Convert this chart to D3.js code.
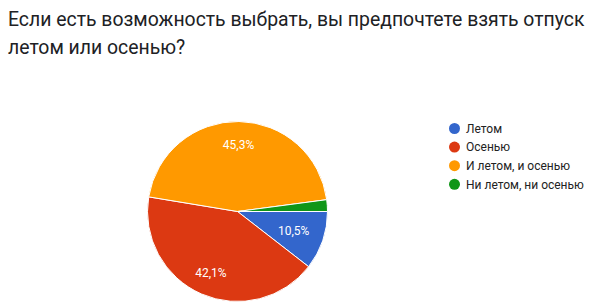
<!DOCTYPE html>
<html><head><meta charset="utf-8">
<script src="https://cdn.jsdelivr.net/npm/d3@7"></script>
<style>body{margin:0;background:#fff;}svg{display:block;}</style>
</head><body>
<svg id="c" width="608" height="305"></svg>
<script>
const titleLines = ["Если есть возможность выбрать, вы предпочтете взять отпуск", "летом или осенью?"];
const categories = ["Летом", "Осенью", "И летом, и осенью", "Ни летом, ни осенью"];
const values = [10.5, 42.1, 45.3, 2.1];
const labels = ["10,5%", "42,1%", "45,3%", ""];
const colors = ["#3366cc", "#dc3912", "#ff9900", "#109618"];

const svg = d3.select("#c");
svg.append("rect").attr("width",608).attr("height",305).attr("fill","#fff");

svg.selectAll("text.title").data(titleLines).join("text")
  .attr("class","title")
  .attr("x",8).attr("y",(d,i)=>26+i*27.5)
  .attr("font-family","Roboto").attr("font-size",19.4).attr("fill","#202124")
  .text(d=>d);

const cx = 237.5, cy = 211.5, r = 90;
const pie = d3.pie().sort(null).value(d=>d)
  .startAngle(Math.PI/2).endAngle(Math.PI/2 + 2*Math.PI);
const arcs = pie(values);
const arc = d3.arc().innerRadius(0).outerRadius(r);
const g = svg.append("g").attr("transform",`translate(${cx},${cy})`);
g.selectAll("path").data(arcs).join("path")
  .attr("d",arc).attr("fill",(d,i)=>colors[i])
  .attr("stroke","#fff").attr("stroke-width",1);

// label radius: larger slices push labels further out (Google Charts style)
const lr = d => r * (d.endAngle - d.startAngle > 1 ? 0.74 : 0.66);
g.selectAll("text").data(arcs).join("text")
  .attr("transform",d=>{
    const a = (d.startAngle + d.endAngle)/2;
    return `translate(${Math.sin(a)*lr(d)},${-Math.cos(a)*lr(d)})`;
  })
  .attr("text-anchor","middle").attr("dy","0.35em")
  .attr("font-family","Roboto").attr("font-size",12).attr("fill","#fff")
  .text((d,i)=>labels[i]);

const lg = svg.append("g");
const rows = lg.selectAll("g").data(categories).join("g")
  .attr("transform",(d,i)=>`translate(454.5,${128.5+i*18.6})`);
rows.append("circle").attr("r",5.5).attr("fill",(d,i)=>colors[i]);
rows.append("text").attr("x",11.5).attr("dy","0.35em")
  .attr("font-family","Roboto").attr("font-size",12).attr("fill","#222")
  .text(d=>d);
</script>
</body></html>
